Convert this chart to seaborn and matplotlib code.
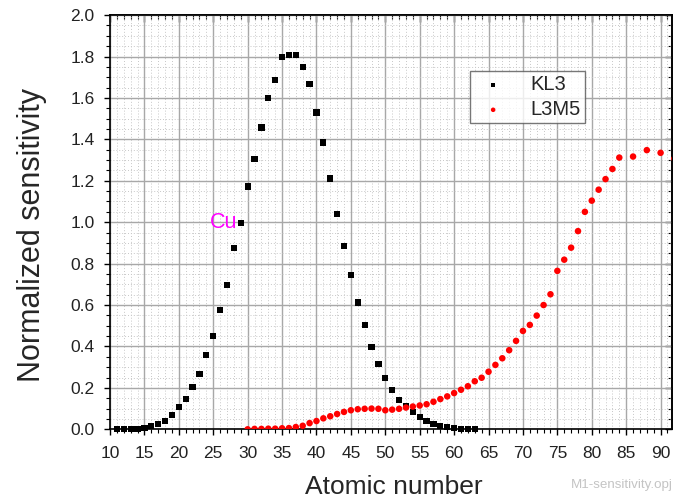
import numpy as np
import pandas as pd
import matplotlib
matplotlib.use("Agg")
import matplotlib.pyplot as plt
from matplotlib.ticker import MultipleLocator
import seaborn as sns

# KL3 sensitivity, Z = 11..63
kl3_z = list(range(11, 64))
kl3_val = [0.0, 0.0, 0.0, 0.0, 0.008, 0.015, 0.024, 0.04, 0.069, 0.108,
           0.148, 0.203, 0.267, 0.359, 0.451, 0.575, 0.696, 0.874, 0.998, 1.172,
           1.304, 1.457, 1.600, 1.686, 1.797, 1.807, 1.808, 1.750, 1.667, 1.530,
           1.385, 1.211, 1.039, 0.886, 0.746, 0.612, 0.504, 0.398, 0.316, 0.246,
           0.191, 0.142, 0.113, 0.082, 0.061, 0.040, 0.027, 0.017, 0.010, 0.005,
           0.003, 0.001, 0.0]

# L3M5 sensitivity
l3m5_z = list(range(30, 85)) + [86, 88, 90, 92]
l3m5_val = [0.0, 0.002, 0.002, 0.003, 0.003, 0.005, 0.006, 0.011, 0.017, 0.030,
            0.040, 0.053, 0.063, 0.074, 0.084, 0.092, 0.097, 0.099, 0.100, 0.099,
            0.092, 0.095, 0.099, 0.105, 0.110, 0.115, 0.121, 0.133, 0.146, 0.159,
            0.175, 0.191, 0.208, 0.232, 0.249, 0.278, 0.311, 0.343, 0.382, 0.427,
            0.475, 0.504, 0.549, 0.600, 0.652, 0.765, 0.819, 0.877, 0.957, 1.050,
            1.104, 1.157, 1.208, 1.257, 1.312, 1.317, 1.348, 1.335, 1.307]

x_ticks = list(range(10, 91, 5))
y_ticks = [round(0.2 * i, 1) for i in range(11)]

sns.set_style("ticks")
plt.rcParams['font.family'] = ['Liberation Sans', 'DejaVu Sans']

fig = plt.figure(figsize=(6.76, 5.03), dpi=100)
ax = fig.add_axes([0.1627, 0.1465, 0.8313, 0.8235])

df_kl3 = pd.DataFrame({"Z": kl3_z, "S": kl3_val})
df_l3 = pd.DataFrame({"Z": l3m5_z, "S": l3m5_val})

sns.scatterplot(data=df_kl3, x="Z", y="S", marker="s", color="black", s=20,
                edgecolor="none", ax=ax, label="KL3", zorder=3, clip_on=False)
sns.scatterplot(data=df_l3, x="Z", y="S", marker="o", color="#ff0000", s=22,
                edgecolor="none", ax=ax, label="L3M5", zorder=3)

ax.set_xlim(10, 91.65)
ax.set_ylim(0, 2.0)
ax.set_xticks(x_ticks)
ax.set_yticks(y_ticks)
ax.set_yticklabels([f"{v:.1f}" for v in y_ticks])
ax.xaxis.set_minor_locator(MultipleLocator(1))
ax.yaxis.set_minor_locator(MultipleLocator(0.05))

ax.grid(which="major", color="#a8a8a8", linewidth=1.0, linestyle="-")
ax.grid(which="minor", color="#c8c8c8", linewidth=0.7, linestyle=(0, (1, 2)))
ax.set_axisbelow(True)

# bottom/left ticks point outward
ax.tick_params(which="both", direction="out", color="black")
ax.tick_params(which="major", length=4, width=1.0, labelsize=12.5,
               labelcolor="#222222")
ax.tick_params(axis="x", which="major", pad=8)
ax.tick_params(axis="y", which="major", pad=7)
ax.tick_params(which="minor", length=3, width=0.8)

# top/right ticks point inward
topx = ax.secondary_xaxis("top")
topx.set_xticks(x_ticks)
topx.xaxis.set_minor_locator(MultipleLocator(1))
topx.tick_params(which="both", direction="in", labeltop=False, color="black")
topx.tick_params(which="major", length=5, width=1.0)
topx.tick_params(which="minor", length=3, width=0.8)
righty = ax.secondary_yaxis("right")
righty.set_yticks(y_ticks)
righty.yaxis.set_minor_locator(MultipleLocator(0.05))
righty.tick_params(which="both", direction="in", labelright=False, color="black")
righty.tick_params(which="major", length=5, width=1.0)
righty.tick_params(which="minor", length=3, width=0.8)

for a in (ax, topx, righty):
    for sp in a.spines.values():
        sp.set_color("black")
        sp.set_linewidth(1.2)

ax.set_xlabel("Atomic number", fontsize=19)
ax.xaxis.set_label_coords(0.505, -0.110)
ax.set_ylabel("Normalized sensitivity", fontsize=22)
ax.yaxis.set_label_coords(-0.112, 0.469)

ax.text(28.5, 1.0, "Cu", color="#ff00ff", fontsize=15.5, ha="right", va="center")

leg = ax.legend(loc="upper left", bbox_to_anchor=(0.6406, 0.865), fontsize=14.5,
                frameon=True, fancybox=False, edgecolor="#555555",
                handletextpad=0.9, markerscale=0.7, borderpad=0.2,
                labelspacing=0.3, handlelength=1.9, borderaxespad=0)
leg.get_frame().set_linewidth(1.0)

fig.text(0.995, 0.035, "M1-sensitivity.opj", color="#c4c4c4", fontsize=9.6,
         ha="right", va="center")

fig.savefig("out.png", dpi=100, facecolor="white")
